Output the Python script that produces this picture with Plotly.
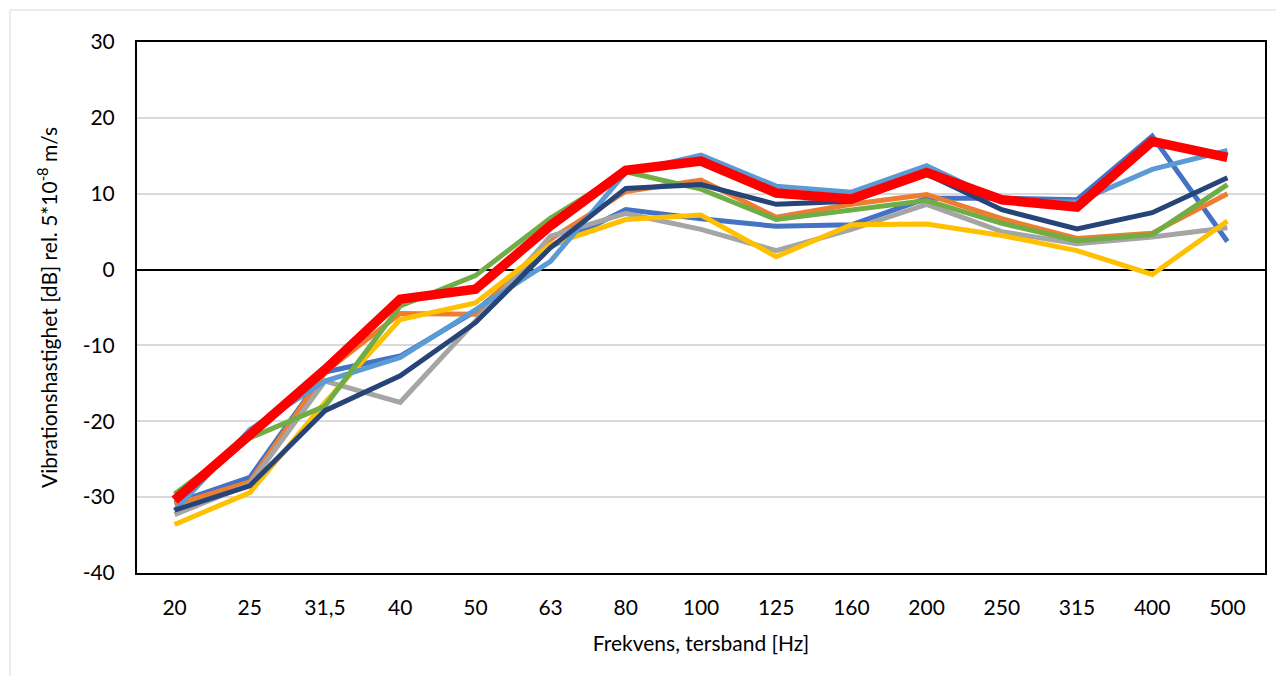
import plotly.graph_objects as go

freq = ["20", "25", "31,5", "40", "50", "63", "80", "100", "125", "160", "200", "250", "315", "400", "500"]

s_blue = [-30.8, -27.4, -13.5, -11.4, -5.5, 3.0, 7.9, 6.7, 5.7, 5.9, 9.4, 9.4, 9.2, 17.6, 3.7]
s_orange = [-31.0, -28.0, -13.5, -5.8, -5.9, 4.0, 10.3, 11.8, 6.9, 8.6, 9.9, 6.7, 4.1, 4.8, 10.0]
s_gray = [-32.3, -28.3, -14.7, -17.5, -6.8, 4.4, 7.4, 5.3, 2.5, 5.3, 8.6, 5.0, 3.4, 4.3, 5.5]
s_yellow = [-33.6, -29.4, -17.5, -6.6, -4.4, 3.3, 6.6, 7.2, 1.7, 5.9, 6.0, 4.5, 2.5, -0.65, 6.4]
s_lightblue = [-31.8, -21.1, -14.7, -11.6, -5.3, 1.1, 12.8, 15.1, 11.0, 10.2, 13.7, 9.0, 8.9, 13.2, 15.7]
s_green = [-29.6, -22.2, -18.0, -4.8, -0.8, 6.8, 12.9, 10.6, 6.6, 7.9, 9.1, 6.1, 3.8, 4.6, 11.2]
s_darkblue = [-31.7, -28.5, -18.6, -14.0, -7.0, 2.9, 10.7, 11.2, 8.6, 9.0, 12.6, 7.9, 5.35, 7.5, 12.1]
s_red = [-30.4, -22.0, -13.2, -3.9, -2.6, 5.8, 13.1, 14.3, 10.1, 9.3, 12.8, 9.2, 8.25, 16.9, 14.8]

y_ticks = [-40, -30, -20, -10, 0, 10, 20, 30]
y_labels = ["-40", "-30", "-20", "-10", "0", "10", "20", "30"]

series = [
    ("Serie 1", s_blue, "#4472C4", 5),
    ("Serie 2", s_orange, "#ED7D31", 5),
    ("Serie 3", s_gray, "#A5A5A5", 5),
    ("Serie 4", s_yellow, "#FFC000", 5),
    ("Serie 5", s_lightblue, "#5B9BD5", 5),
    ("Serie 6", s_green, "#70AD47", 5),
    ("Serie 7", s_darkblue, "#264478", 5),
    ("Medel", s_red, "#FF0000", 9.5),
]

fig = go.Figure()
for name, vals, col, w in series:
    fig.add_trace(go.Scatter(x=freq, y=vals, name=name, mode="lines",
                             line=dict(color=col, width=w)))

font = "Lato, Carlito, Calibri, sans-serif"
# page body has an 8px margin; figure is sized/placed to compensate
W, H = 1268, 668
L, R, T, B = 129, 11, 34, 103
pw, ph = W - L - R, H - T - B

fig.update_layout(
    width=W, height=H,
    margin=dict(l=L, r=R, t=T, b=B),
    paper_bgcolor="white", plot_bgcolor="white",
    showlegend=False,
    font=dict(family=font, size=21, color="#000000"),
    xaxis=dict(
        type="category", categoryorder="array", categoryarray=freq,
        range=[-0.5, len(freq) - 0.5], automargin=False,
        showline=True, mirror=True, linecolor="#000000", linewidth=2,
        showgrid=False, ticks="", ticklabelstandoff=15,
        title=dict(text="Frekvens, tersband [Hz]", font=dict(size=21), standoff=18),
        tickfont=dict(size=21),
    ),
    yaxis=dict(
        range=[-40, 30], tickvals=y_ticks, ticktext=y_labels, automargin=False,
        showline=True, mirror=True, linecolor="#000000", linewidth=2,
        showgrid=True, gridcolor="#D9D9D9", gridwidth=1.5,
        zeroline=True, zerolinecolor="#000000", zerolinewidth=1.5,
        ticks="", ticklabelstandoff=16,
        title=dict(text="Vibrationshastighet [dB] rel. 5*10<sup>-8</sup> m/s", font=dict(size=21), standoff=19),
        tickfont=dict(size=21),
    ),
    shapes=[dict(
        type="rect", xref="paper", yref="paper",
        x0=(2 - L) / pw, x1=(W + 20 - L) / pw,
        y0=(H - B - (H + 20)) / ph, y1=(H - B - 2) / ph,
        line=dict(color="#D9D9D9", width=1), fillcolor="rgba(0,0,0,0)", layer="below",
    )],
)

fig.write_html("out.html")
